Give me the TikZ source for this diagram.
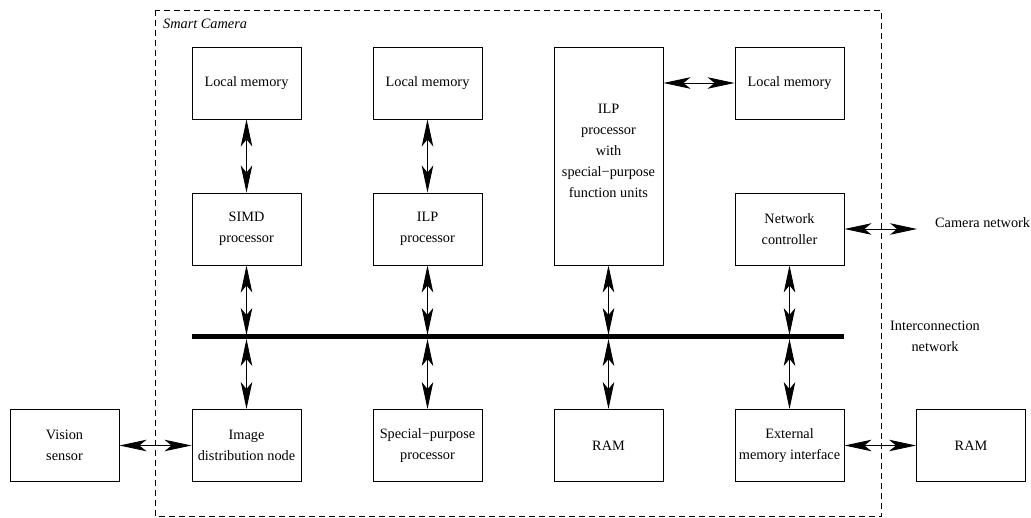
\documentclass[tikz,border=0pt]{standalone}
\usepackage{fontspec}
\setmainfont{Liberation Serif}
\usetikzlibrary{arrows.meta}
\begin{document}
\begin{tikzpicture}[x=1pt,y=-1pt,
  box/.style={draw, line width=0.9pt, rectangle, minimum width=109pt, minimum height=72pt, inner sep=1pt, align=center, font=\fontsize{14.3}{21}\selectfont},
  txt/.style={inner sep=0pt, align=center, font=\fontsize{14.3}{21}\selectfont},
  link/.style={line width=0.9pt, {Stealth[length=27pt,width=11.5pt,inset=7pt]}-{Stealth[length=27pt,width=11.5pt,inset=7pt]}},
  bus/.style={line width=5pt},
  frame/.style={draw, line width=0.7pt, dash pattern=on 6pt off 4pt}]
\useasboundingbox (0,0) rectangle (1031,518);
% smart camera frame
\draw[frame] (155,10) rectangle (881,516.5);
\node[txt, anchor=west, font=\fontsize{14.3}{21}\selectfont\itshape] (sc) at (163,24) {Smart Camera};
% top row
\node[box] (lm1) at (246.5,83) {Local memory};
\node[box] (lm2) at (427.5,83) {Local memory};
\node[box] (lm3) at (789.5,83) {Local memory};
\node[draw, line width=0.9pt, rectangle, minimum width=109pt, minimum height=218pt, inner sep=0pt] (ilpf) at (608.5,156) {};
\node[txt] (ilpt) at (608.5,150.5) {ILP\\processor\\with\\special−purpose\\function units};
% middle row
\node[box] (simd) at (246.5,229) {SIMD\\processor};
\node[box] (ilp) at (427.5,229) {ILP\\processor};
\node[box] (nc) at (789.5,229) {Network\\controller};
% bottom row
\node[box] (vs) at (64.5,445.5) {Vision\\sensor};
\node[box] (idn) at (246.5,445.5) {Image\\distribution node};
\node[box] (spp) at (427.5,445.5) {Special−purpose\\processor};
\node[box] (ram1) at (608.5,445.5) {RAM};
\node[box] (emi) at (789.5,445.5) {External\\memory interface};
\node[box] (ram2) at (971,445.5) {RAM};
% bus
\coordinate (busL) at (192,337);
\coordinate (busR) at (844,337);
\draw[bus] (busL) -- (busR);
\foreach \n/\x in {1/246.5,2/427.5,3/608.5,4/789.5}{
  \coordinate (bt\n) at (\x,335);
  \coordinate (bb\n) at (\x,339);
}
% labels
\node[txt] (inet) at (935,336) {Interconnection\\network};
\node[txt, anchor=west] (cn) at (935,223) {Camera network};
\coordinate (cnend) at (917,229);
% vertical links
\draw[link] (lm1.south) -- (simd.north);
\draw[link] (lm2.south) -- (ilp.north);
\draw[link] (simd.south) -- (bt1);
\draw[link] (ilp.south) -- (bt2);
\draw[link] (ilpf.south) -- (bt3);
\draw[link] (nc.south) -- (bt4);
\draw[link] (bb1) -- (idn.north);
\draw[link] (bb2) -- (spp.north);
\draw[link] (bb3) -- (ram1.north);
\draw[link] (bb4) -- (emi.north);
% horizontal links
\draw[link] (ilpf.east |- lm3.west) -- (lm3.west);
\draw[link] (nc.east) -- (cnend);
\draw[link] (vs.east) -- (idn.west);
\draw[link] (emi.east) -- (ram2.west);
\end{tikzpicture}
\end{document}
